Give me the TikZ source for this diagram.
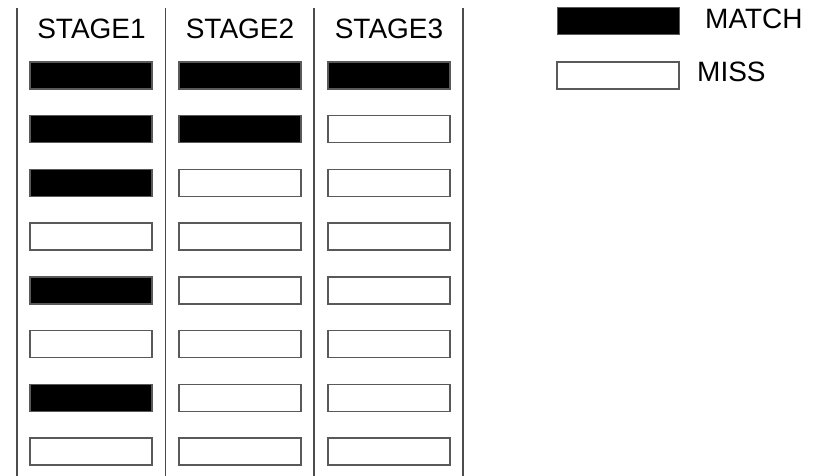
\documentclass[tikz,border=0pt]{standalone}
\usepackage{fontspec}
\setmainfont{Liberation Sans}
\usetikzlibrary{positioning}

\begin{document}
\begin{tikzpicture}[
    x=1pt, y=-1pt,              % pixel-like units, y downwards
    font=\fontsize{28}{32}\selectfont,
    slot/.style={draw=black!65, line width=1.4pt, minimum width=122pt, minimum height=27pt, inner sep=0pt},
    matchbox/.style={slot, fill=black},
    missbox/.style={slot, fill=white},
    stagelabel/.style={anchor=base, inner sep=0pt},
    divider/.style={draw=black!70, line width=1.6pt}
]
    \useasboundingbox (0,0) rectangle (820,476);

    % --- column dividers ---
    \foreach \xx [count=\i] in {17,165.5,314,463} {
        \coordinate (top\i) at (\xx,8);
        \coordinate (bot\i) at (\xx,476);
        \draw [divider] (top\i) -- (bot\i);
    }

    % --- stage headers ---
    \foreach \s/\xx in {1/91.5,2/240,3/389} {
        \node [stagelabel] (stage\s) at (\xx,39) {STAGE\s};
    }

    % --- slots (1 = match, 0 = miss) ---
    \foreach \s/\xx/\pattern in {1/91/{1,1,1,0,1,0,1,0},
                                 2/240/{1,1,0,0,0,0,0,0},
                                 3/389/{1,0,0,0,0,0,0,0}} {
        \foreach \hit [count=\r] in \pattern {
            \ifnum\hit=1
                \node [matchbox] (s\s r\r) at (\xx,{75.5+53.7*(\r-1)}) {};
            \else
                \node [missbox] (s\s r\r) at (\xx,{75.5+53.7*(\r-1)}) {};
            \fi
        }
    }

    % --- legend ---
    \node [matchbox] (legmatch) at (618.5,21) {};
    \node [missbox] (legmiss) at (618,75.5) {};
    \node [anchor=base west, inner sep=0pt] (legmatchtxt) at (705,29) {MATCH};
    \node [anchor=base west, inner sep=0pt] (legmisstxt) at (697,82) {MISS};

\end{tikzpicture}
\end{document}
